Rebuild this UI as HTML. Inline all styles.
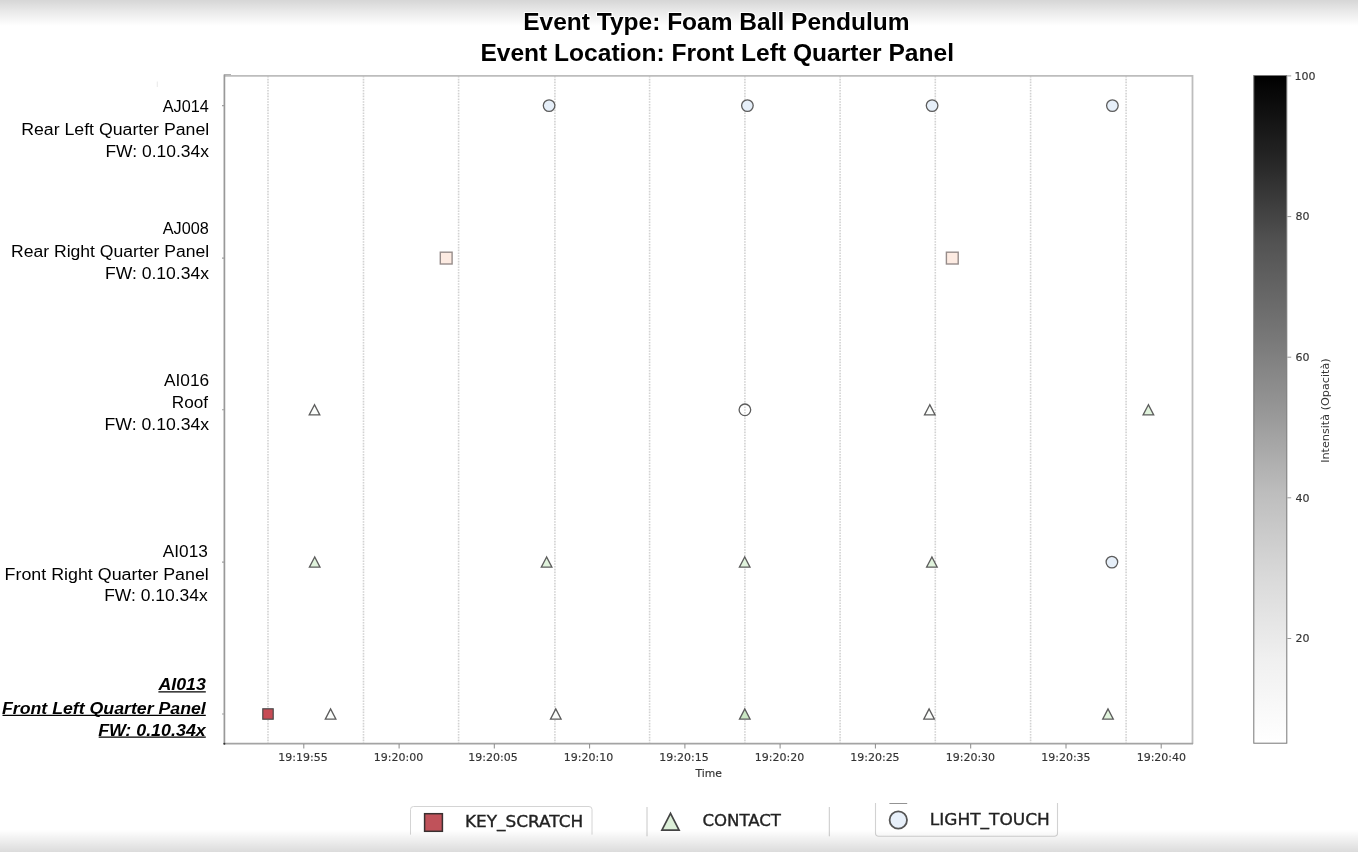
<!DOCTYPE html>
<html><head><meta charset="utf-8"><title>Event timeline</title>
<style>
html,body{margin:0;padding:0;background:#fff;width:1358px;height:852px;overflow:hidden}
svg{display:block;filter:blur(0.45px)}
.ls{font-family:"Liberation Sans",Arial,sans-serif}
.dv{font-family:"DejaVu Sans","Liberation Sans",sans-serif}
</style></head><body>
<svg width="1358" height="852" viewBox="0 0 1358 852">

<defs>
<linearGradient id="topg" x1="0" y1="0" x2="0" y2="1">
<stop offset="0" stop-color="#d6d6d6"/><stop offset="0.5" stop-color="#ececec"/><stop offset="1" stop-color="#ffffff"/>
</linearGradient>
<linearGradient id="botg" x1="0" y1="0" x2="0" y2="1">
<stop offset="0" stop-color="#000" stop-opacity="0"/><stop offset="1" stop-color="#000" stop-opacity="0.14"/>
</linearGradient>
<linearGradient id="cbar" x1="0" y1="0" x2="0" y2="1">
<stop offset="0" stop-color="#000000"/><stop offset="0.125" stop-color="#252525"/><stop offset="0.25" stop-color="#525252"/>
<stop offset="0.375" stop-color="#737373"/><stop offset="0.5" stop-color="#969696"/><stop offset="0.625" stop-color="#bdbdbd"/>
<stop offset="0.75" stop-color="#d9d9d9"/><stop offset="0.875" stop-color="#f0f0f0"/><stop offset="1" stop-color="#ffffff"/>
</linearGradient>
</defs>
<rect width="1358" height="852" fill="#fff"/>
<rect x="0" y="0" width="1358" height="26" fill="url(#topg)"/>
<line x1="268.0" y1="76" x2="268.0" y2="743" stroke="#d2d2d2" stroke-width="1.6" stroke-dasharray="1.6 1.2"/>
<line x1="363.5" y1="76" x2="363.5" y2="743" stroke="#d2d2d2" stroke-width="1.6" stroke-dasharray="1.6 1.2"/>
<line x1="458.6" y1="76" x2="458.6" y2="743" stroke="#d2d2d2" stroke-width="1.6" stroke-dasharray="1.6 1.2"/>
<line x1="554.9" y1="76" x2="554.9" y2="743" stroke="#d2d2d2" stroke-width="1.6" stroke-dasharray="1.6 1.2"/>
<line x1="649.6" y1="76" x2="649.6" y2="743" stroke="#d2d2d2" stroke-width="1.6" stroke-dasharray="1.6 1.2"/>
<line x1="744.9" y1="76" x2="744.9" y2="743" stroke="#d2d2d2" stroke-width="1.6" stroke-dasharray="1.6 1.2"/>
<line x1="840.1" y1="76" x2="840.1" y2="743" stroke="#d2d2d2" stroke-width="1.6" stroke-dasharray="1.6 1.2"/>
<line x1="935.3" y1="76" x2="935.3" y2="743" stroke="#d2d2d2" stroke-width="1.6" stroke-dasharray="1.6 1.2"/>
<line x1="1030.6" y1="76" x2="1030.6" y2="743" stroke="#d2d2d2" stroke-width="1.6" stroke-dasharray="1.6 1.2"/>
<line x1="1126.1" y1="76" x2="1126.1" y2="743" stroke="#d2d2d2" stroke-width="1.6" stroke-dasharray="1.6 1.2"/>
<line x1="224.3" y1="75.8" x2="1192.5" y2="75.8" stroke="#bdbdbd" stroke-width="1.7"/>
<line x1="1192.5" y1="75" x2="1192.5" y2="744" stroke="#bdbdbd" stroke-width="1.8"/>
<line x1="224.4" y1="74.5" x2="224.4" y2="744.3" stroke="#999" stroke-width="1.7"/>
<line x1="223.5" y1="743.7" x2="1193" y2="743.7" stroke="#a4a4a4" stroke-width="1.8"/>
<circle cx="224.4" cy="743.7" r="1" fill="#333"/>
<line x1="157.3" y1="81.5" x2="157.3" y2="87" stroke="#e2e2e2" stroke-width="0.8"/>
<line x1="224" y1="74.6" x2="231" y2="74.6" stroke="#aaa" stroke-width="1"/>
<line x1="222" y1="105.6" x2="224" y2="105.6" stroke="#a0a0a0" stroke-width="1.1"/>
<line x1="222" y1="258.1" x2="224" y2="258.1" stroke="#a0a0a0" stroke-width="1.1"/>
<line x1="222" y1="409.8" x2="224" y2="409.8" stroke="#a0a0a0" stroke-width="1.1"/>
<line x1="222" y1="562.1" x2="224" y2="562.1" stroke="#a0a0a0" stroke-width="1.1"/>
<line x1="222" y1="714.0" x2="224" y2="714.0" stroke="#a0a0a0" stroke-width="1.1"/>
<line x1="303.8" y1="744" x2="303.8" y2="748.5" stroke="#8a8a8a" stroke-width="1"/>
<line x1="399.1" y1="744" x2="399.1" y2="748.5" stroke="#8a8a8a" stroke-width="1"/>
<line x1="494.3" y1="744" x2="494.3" y2="748.5" stroke="#8a8a8a" stroke-width="1"/>
<line x1="589.6" y1="744" x2="589.6" y2="748.5" stroke="#8a8a8a" stroke-width="1"/>
<line x1="684.9" y1="744" x2="684.9" y2="748.5" stroke="#8a8a8a" stroke-width="1"/>
<line x1="780.1" y1="744" x2="780.1" y2="748.5" stroke="#8a8a8a" stroke-width="1"/>
<line x1="875.4" y1="744" x2="875.4" y2="748.5" stroke="#8a8a8a" stroke-width="1"/>
<line x1="970.7" y1="744" x2="970.7" y2="748.5" stroke="#8a8a8a" stroke-width="1"/>
<line x1="1066.0" y1="744" x2="1066.0" y2="748.5" stroke="#8a8a8a" stroke-width="1"/>
<line x1="1161.2" y1="744" x2="1161.2" y2="748.5" stroke="#8a8a8a" stroke-width="1"/>
<circle cx="549.1" cy="105.6" r="5.8" fill="#e6eff9" stroke="#5c5c5c" stroke-width="1.3"/>
<circle cx="747.4" cy="105.6" r="5.8" fill="#e6eff9" stroke="#5c5c5c" stroke-width="1.3"/>
<circle cx="932.1" cy="105.6" r="5.8" fill="#e6eff9" stroke="#5c5c5c" stroke-width="1.3"/>
<circle cx="1112.4" cy="105.6" r="5.8" fill="#e6eff9" stroke="#5c5c5c" stroke-width="1.3"/>
<rect x="440.3" y="252.2" width="11.8" height="11.8" fill="#fdebe2" stroke="#968c8a" stroke-width="1.4"/>
<rect x="946.4" y="252.2" width="11.8" height="11.8" fill="#fdebe2" stroke="#968c8a" stroke-width="1.4"/>
<polygon points="314.5,404.7 309.2,414.9 319.8,414.9" fill="#fbfdfb" stroke="#5c5c5c" stroke-width="1.3" stroke-linejoin="miter"/>
<circle cx="744.9" cy="409.8" r="5.8" fill="none" stroke="#5c5c5c" stroke-width="1.3"/>
<polygon points="929.8,404.7 924.5,414.9 935.1,414.9" fill="#fbfdfb" stroke="#5c5c5c" stroke-width="1.3" stroke-linejoin="miter"/>
<polygon points="1148.4,404.7 1143.1,414.9 1153.7,414.9" fill="#e0f3dc" stroke="#5c5c5c" stroke-width="1.3" stroke-linejoin="miter"/>
<polygon points="314.7,557.0 309.4,567.2 320.0,567.2" fill="#e0f3dc" stroke="#5c5c5c" stroke-width="1.3" stroke-linejoin="miter"/>
<polygon points="546.6,557.0 541.3,567.2 551.9,567.2" fill="#e0f3dc" stroke="#5c5c5c" stroke-width="1.3" stroke-linejoin="miter"/>
<polygon points="744.7,557.0 739.4,567.2 750.0,567.2" fill="#e0f3dc" stroke="#5c5c5c" stroke-width="1.3" stroke-linejoin="miter"/>
<polygon points="931.9,557.0 926.6,567.2 937.2,567.2" fill="#e0f3dc" stroke="#5c5c5c" stroke-width="1.3" stroke-linejoin="miter"/>
<circle cx="1111.9" cy="562.1" r="5.8" fill="#e6eff9" stroke="#5c5c5c" stroke-width="1.3"/>
<rect x="262.8" y="708.8" width="10.4" height="10.4" fill="#c74b55" stroke="#4a4a4a" stroke-width="1.2"/>
<polygon points="330.6,708.9 325.3,719.1 335.9,719.1" fill="#fbfdfb" stroke="#5c5c5c" stroke-width="1.3" stroke-linejoin="miter"/>
<polygon points="555.8,708.9 550.5,719.1 561.1,719.1" fill="#fbfdfb" stroke="#5c5c5c" stroke-width="1.3" stroke-linejoin="miter"/>
<polygon points="744.8,708.9 739.5,719.1 750.1,719.1" fill="#cbe7c4" stroke="#5c5c5c" stroke-width="1.3" stroke-linejoin="miter"/>
<polygon points="929.1,708.9 923.8,719.1 934.4,719.1" fill="#fbfdfb" stroke="#5c5c5c" stroke-width="1.3" stroke-linejoin="miter"/>
<polygon points="1108.0,708.9 1102.7,719.1 1113.3,719.1" fill="#e0f3dc" stroke="#5c5c5c" stroke-width="1.3" stroke-linejoin="miter"/>
<rect x="1253.8" y="75.5" width="33" height="667.7" fill="url(#cbar)" stroke="#777" stroke-width="1"/>
<line x1="1287.3" y1="75.9" x2="1291.2" y2="75.9" stroke="#999" stroke-width="1"/>
<line x1="1287.3" y1="216.6" x2="1291.2" y2="216.6" stroke="#999" stroke-width="1"/>
<line x1="1287.3" y1="357.2" x2="1291.2" y2="357.2" stroke="#999" stroke-width="1"/>
<line x1="1287.3" y1="497.8" x2="1291.2" y2="497.8" stroke="#999" stroke-width="1"/>
<line x1="1287.3" y1="638.5" x2="1291.2" y2="638.5" stroke="#999" stroke-width="1"/>
<text class="dv" transform="translate(1328.6,410.6) rotate(-90)" text-anchor="middle" font-size="11.2" fill="#333">Intensità (Opacità)</text>
<path d="M410.5 834.6 V809.5 Q410.5 806.5 413.5 806.5 H589 Q592 806.5 592 809.5 V834.6" fill="#fff" stroke="#d4d4d4" stroke-width="1"/>
<rect x="424.6" y="813.7" width="17.8" height="17.6" fill="#c0525a" stroke="#3a3030" stroke-width="1.5"/>
<line x1="647" y1="807" x2="647" y2="836.3" stroke="#c8c8c8" stroke-width="1"/>
<line x1="829.3" y1="807" x2="829.3" y2="836.3" stroke="#c8c8c8" stroke-width="1"/>
<polygon points="670.5,813.3 661.9,830.2 679.1,830.2" fill="#dcefd8" stroke="#444" stroke-width="1.7"/>
<path d="M875.5 803 V833 Q875.5 836.2 878.7 836.2 H1054.3 Q1057.5 836.2 1057.5 833 V803" fill="none" stroke="#d2d2d2" stroke-width="1.1"/>
<line x1="889.4" y1="803.5" x2="907.2" y2="803.5" stroke="#777" stroke-width="0.8"/>
<circle cx="898.3" cy="820" r="8.7" fill="#e8f0fa" stroke="#555" stroke-width="1.8"/>
<text id="t1" class="ls" x="523.20" y="29.5" font-size="23.5" fill="#000" font-weight="bold" stroke="#fff" stroke-width="2.2" paint-order="stroke" stroke-linejoin="round" textLength="386.40" lengthAdjust="spacingAndGlyphs">Event Type: Foam Ball Pendulum</text>
<text id="t2" class="ls" x="480.40" y="61.3" font-size="23.5" fill="#000" font-weight="bold" stroke="#fff" stroke-width="2.2" paint-order="stroke" stroke-linejoin="round" textLength="473.60" lengthAdjust="spacingAndGlyphs">Event Location: Front Left Quarter Panel</text>
<text id="y0" class="ls" x="162.80" y="111.7" font-size="16.0" fill="#000" textLength="46.00" lengthAdjust="spacingAndGlyphs">AJ014</text>
<text id="y1" class="ls" x="21.20" y="134.9" font-size="16.0" fill="#000" textLength="188.00" lengthAdjust="spacingAndGlyphs">Rear Left Quarter Panel</text>
<text id="y2" class="ls" x="105.40" y="156.6" font-size="16.0" fill="#000" textLength="103.60" lengthAdjust="spacingAndGlyphs">FW: 0.10.34x</text>
<text id="y3" class="ls" x="162.80" y="233.7" font-size="16.0" fill="#000" textLength="46.00" lengthAdjust="spacingAndGlyphs">AJ008</text>
<text id="y4" class="ls" x="11.00" y="256.6" font-size="16.0" fill="#000" textLength="198.20" lengthAdjust="spacingAndGlyphs">Rear Right Quarter Panel</text>
<text id="y5" class="ls" x="105.00" y="278.6" font-size="16.0" fill="#000" textLength="104.00" lengthAdjust="spacingAndGlyphs">FW: 0.10.34x</text>
<text id="y6" class="ls" x="164.00" y="385.7" font-size="16.0" fill="#000" textLength="45.20" lengthAdjust="spacingAndGlyphs">AI016</text>
<text id="y7" class="ls" x="171.80" y="408.2" font-size="16.0" fill="#000" textLength="36.20" lengthAdjust="spacingAndGlyphs">Roof</text>
<text id="y8" class="ls" x="104.60" y="430.2" font-size="16.0" fill="#000" textLength="104.60" lengthAdjust="spacingAndGlyphs">FW: 0.10.34x</text>
<text id="y9" class="ls" x="162.80" y="556.7" font-size="16.0" fill="#000" textLength="45.00" lengthAdjust="spacingAndGlyphs">AI013</text>
<text id="y10" class="ls" x="4.60" y="579.9" font-size="16.0" fill="#000" textLength="204.20" lengthAdjust="spacingAndGlyphs">Front Right Quarter Panel</text>
<text id="y11" class="ls" x="104.20" y="601.4" font-size="16.0" fill="#000" textLength="103.60" lengthAdjust="spacingAndGlyphs">FW: 0.10.34x</text>
<text id="b0" class="ls" x="158.40" y="690.3" font-size="16.0" fill="#000" font-weight="bold" font-style="italic" textLength="47.40" lengthAdjust="spacingAndGlyphs">AI013</text>
<text id="b1" class="ls" x="2.00" y="713.7" font-size="16.0" fill="#000" font-weight="bold" font-style="italic" textLength="203.80" lengthAdjust="spacingAndGlyphs">Front Left Quarter Panel</text>
<text id="b2" class="ls" x="98.20" y="735.5" font-size="16.0" fill="#000" font-weight="bold" font-style="italic" textLength="107.60" lengthAdjust="spacingAndGlyphs">FW: 0.10.34x</text>
<text id="x0" class="dv" x="278.35" y="760.9" font-size="11.0" fill="#333" stroke="#333" stroke-width="0.15">19:19:55</text>
<text id="x1" class="dv" x="373.83" y="760.9" font-size="11.0" fill="#333" stroke="#333" stroke-width="0.15">19:20:00</text>
<text id="x2" class="dv" x="468.31" y="760.9" font-size="11.0" fill="#333" stroke="#333" stroke-width="0.15">19:20:05</text>
<text id="x3" class="dv" x="563.79" y="760.9" font-size="11.0" fill="#333" stroke="#333" stroke-width="0.15">19:20:10</text>
<text id="x4" class="dv" x="659.27" y="760.9" font-size="11.0" fill="#333" stroke="#333" stroke-width="0.15">19:20:15</text>
<text id="x5" class="dv" x="754.75" y="760.9" font-size="11.0" fill="#333" stroke="#333" stroke-width="0.15">19:20:20</text>
<text id="x6" class="dv" x="850.23" y="760.9" font-size="11.0" fill="#333" stroke="#333" stroke-width="0.15">19:20:25</text>
<text id="x7" class="dv" x="945.71" y="760.9" font-size="11.0" fill="#333" stroke="#333" stroke-width="0.15">19:20:30</text>
<text id="x8" class="dv" x="1041.19" y="760.9" font-size="11.0" fill="#333" stroke="#333" stroke-width="0.15">19:20:35</text>
<text id="x9" class="dv" x="1136.67" y="760.9" font-size="11.0" fill="#333" stroke="#333" stroke-width="0.15">19:20:40</text>
<text id="time" class="dv" x="695.60" y="776.6" font-size="10.8" fill="#333" stroke="#333" stroke-width="0.15">Time</text>
<text id="c0" class="dv" x="1294.40" y="79.6" font-size="11.0" fill="#333" stroke="#333" stroke-width="0.15">100</text>
<text id="c1" class="dv" x="1295.40" y="220.29999999999998" font-size="11.0" fill="#333" stroke="#333" stroke-width="0.15">80</text>
<text id="c2" class="dv" x="1295.40" y="360.90000000000003" font-size="11.0" fill="#333" stroke="#333" stroke-width="0.15">60</text>
<text id="c3" class="dv" x="1295.40" y="501.5" font-size="11.0" fill="#333" stroke="#333" stroke-width="0.15">40</text>
<text id="c4" class="dv" x="1295.40" y="642.2" font-size="11.0" fill="#333" stroke="#333" stroke-width="0.15">20</text>
<text id="k1" class="dv" x="465.00" y="826.7" font-size="16.5" fill="#222" stroke="#222" stroke-width="0.35" textLength="118.20" lengthAdjust="spacingAndGlyphs">KEY_SCRATCH</text>
<text id="k2" class="dv" x="702.40" y="826.1" font-size="16.5" fill="#222" stroke="#222" stroke-width="0.35" textLength="78.60" lengthAdjust="spacingAndGlyphs">CONTACT</text>
<text id="k3" class="dv" x="929.80" y="824.7" font-size="16.5" fill="#222" stroke="#222" stroke-width="0.35" textLength="120.00" lengthAdjust="spacingAndGlyphs">LIGHT_TOUCH</text>
<line x1="158.4" y1="691.9" x2="205.8" y2="691.9" stroke="#000" stroke-width="1.2"/>
<line x1="2.5" y1="715.3" x2="205.8" y2="715.3" stroke="#000" stroke-width="1.2"/>
<line x1="98.7" y1="737.1" x2="205.8" y2="737.1" stroke="#000" stroke-width="1.2"/>
<rect x="0" y="830" width="1358" height="22" fill="url(#botg)"/>
</svg></body></html>
